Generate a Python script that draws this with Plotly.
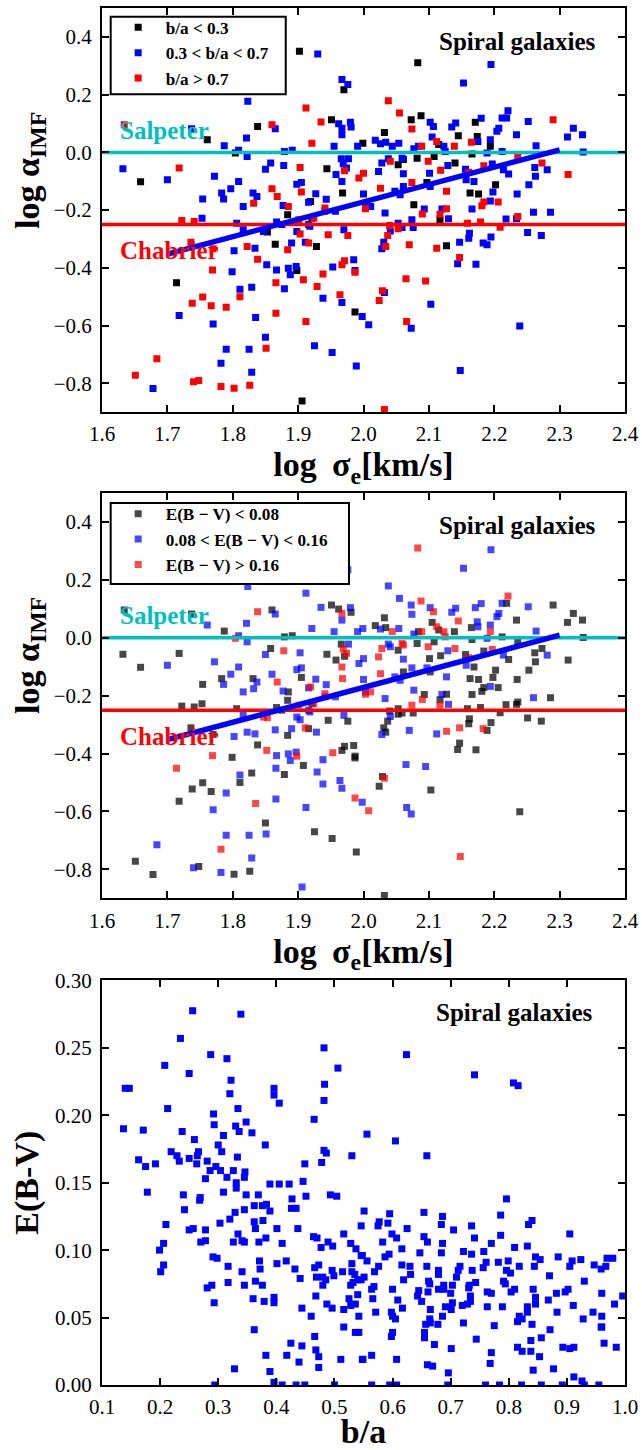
import plotly.graph_objects as go

# ---------------- data: panels 1 & 2 (same galaxies) ----------------
pts = [
(1.902,0.350,'L','M'),(1.930,0.341,'M','M'),(1.967,0.252,'M','M'),(1.976,0.235,'M','M'),
(1.970,0.217,'L','L'),(1.823,0.177,'M','M'),(1.912,0.154,'H','M'),(1.951,0.113,'L','L'),
(1.935,0.105,'H','M'),(1.962,0.099,'M','L'),(1.967,0.084,'M','H'),(1.980,0.104,'M','M'),
(1.981,0.088,'M','L'),(1.967,0.061,'M','M'),(1.838,0.090,'L','H'),(1.860,0.096,'H','L'),
(1.865,0.082,'M','M'),(1.634,0.096,'H','L'),(1.737,0.082,'M','L'),(1.761,0.044,'L','M'),
(1.821,0.050,'M','M'),(1.921,0.032,'H','M'),(1.787,0.023,'M','L'),(1.999,0.032,'L','M'),
(1.809,0.007,'M','M'),(1.804,-0.002,'L','H'),(1.822,-0.014,'M','M'),(1.879,0.003,'M','L'),
(1.891,0.007,'M','L'),(1.955,0.021,'M','M'),(1.991,0.021,'M','M'),(1.966,-0.022,'M','L'),
(1.977,-0.022,'M','M'),(1.969,-0.039,'M','H'),(1.974,-0.054,'M','H'),(1.944,-0.057,'L','L'),
(1.971,-0.064,'H','L'),(1.958,-0.077,'M','L'),(1.967,-0.101,'M','H'),(1.993,-0.089,'H','M'),
(1.632,-0.057,'M','L'),(1.659,-0.102,'L','L'),(1.700,-0.095,'M','M'),(1.718,-0.054,'H','L'),
(1.772,-0.083,'M','M'),(1.809,-0.101,'M','M'),(1.797,-0.126,'M','M'),(1.783,-0.141,'M','L'),
(1.786,-0.161,'M','M'),(1.754,-0.161,'M','L'),(1.831,-0.141,'M','L'),(1.837,-0.153,'M','M'),
(1.832,-0.176,'H','M'),(1.816,-0.187,'M','M'),(1.858,-0.037,'M','L'),(1.850,-0.058,'M','M'),
(1.878,-0.045,'M','H'),(1.903,-0.052,'H','M'),(1.898,-0.110,'M','M'),(1.905,-0.104,'M','M'),
(1.860,-0.126,'H','M'),(1.905,-0.137,'H','L'),(1.868,-0.153,'H','H'),(1.877,-0.184,'M','M'),
(1.885,-0.187,'H','L'),(1.916,-0.173,'M','M'),(1.919,-0.170,'L','H'),(1.927,-0.143,'M','M'),
(1.943,-0.162,'M','M'),(1.968,-0.141,'L','H'),(1.941,-0.193,'H','H'),
(2.083,0.310,'L','H'),(2.195,0.304,'M','M'),(2.153,0.240,'M','M'),(2.038,0.179,'H','M'),
(2.055,0.136,'H','M'),(2.073,0.113,'L','M'),(2.088,0.127,'L','H'),(2.074,0.081,'H','M'),
(2.032,0.069,'L','L'),(2.102,0.104,'M','M'),(2.107,0.090,'M','H'),(2.135,0.088,'M','M'),
(2.141,0.102,'M','M'),(2.171,0.104,'L','M'),(2.180,0.118,'M','M'),(2.145,0.058,'L','H'),
(2.174,0.055,'L','M'),(2.105,0.053,'M','L'),(2.204,0.073,'M','M'),(2.207,0.084,'M','M'),
(2.212,0.119,'M','M'),(2.219,0.119,'M','L'),(2.221,0.144,'M','H'),(2.252,0.107,'M','M'),
(2.290,0.113,'H','L'),(2.321,0.084,'M','L'),(2.335,0.061,'M','L'),(2.312,0.053,'M','L'),
(2.234,0.061,'M','L'),(2.194,0.044,'M','M'),(2.165,0.035,'H','L'),(2.175,0.038,'M','M'),
(2.018,0.042,'M','L'),(2.026,0.030,'M','M'),(2.034,0.035,'M','L'),(2.044,0.021,'M','H'),
(2.054,0.032,'M','M'),(2.077,0.013,'M','M'),(2.084,0.021,'M','L'),(2.089,0.021,'H','H'),
(2.112,0.038,'H','H'),(2.115,0.027,'L','L'),(2.123,0.021,'M','H'),(2.125,0.003,'M','H'),
(2.139,0.021,'H','L'),(2.264,0.023,'M','M'),(2.336,0.001,'M','L'),(2.108,-0.014,'L','L'),
(2.166,-0.006,'L','L'),(2.189,-0.002,'M','M'),(2.212,0.003,'M','L'),(2.236,-0.014,'H','L'),
(2.194,0.021,'L','H'),(2.038,-0.022,'M','M'),(2.059,-0.020,'M','H'),(2.041,-0.031,'H','M'),
(2.053,-0.043,'L','L'),(2.061,-0.025,'L','H'),(2.028,-0.037,'M','H'),(2.023,-0.066,'M','H'),
(2.000,-0.072,'H','M'),(2.099,-0.031,'H','H'),(2.082,-0.020,'L','L'),(2.140,-0.037,'L','H'),
(2.129,-0.045,'M','M'),(2.061,-0.074,'M','M'),(2.101,-0.072,'M','L'),(2.118,-0.062,'H','L'),
(2.156,-0.058,'M','L'),(2.184,-0.046,'H','L'),(2.197,-0.040,'M','H'),(2.161,-0.069,'H','H'),
(2.157,-0.095,'M','M'),(2.169,-0.101,'M','L'),(2.222,-0.075,'M','L'),(2.214,-0.060,'M','M'),
(2.262,-0.052,'M','L'),(2.263,-0.083,'M','L'),(2.281,-0.060,'M','M'),(2.273,-0.037,'H','L'),
(2.313,-0.077,'H','L'),(2.202,-0.112,'L','L'),(2.253,-0.112,'M','L'),(2.235,-0.144,'M','L'),
(2.198,-0.137,'M','L'),(2.163,-0.141,'L','L'),(2.176,-0.144,'L','L'),(2.206,-0.172,'H','L'),
(2.184,-0.172,'H','L'),(2.181,-0.185,'H','L'),(2.194,-0.168,'M','M'),(2.127,-0.135,'H','M'),
(2.102,-0.118,'M','L'),(2.097,-0.104,'L','M'),(2.074,-0.104,'H','M'),(2.061,-0.118,'M','L'),
(2.048,-0.135,'M','M'),(2.056,-0.147,'M','M'),(2.026,-0.124,'H','H'),(2.000,-0.144,'M','M'),
(2.077,-0.181,'L','M'),(2.127,-0.195,'H','L'),(2.093,-0.196,'M','L'),(2.120,-0.196,'M','M'),
(2.166,-0.196,'M','L'),(2.260,-0.207,'M','M'),(2.286,-0.207,'M','L'),
(2.003,-0.187,'M','M'),(2.011,-0.187,'M','H'),(2.003,-0.195,'H','H'),(2.033,-0.210,'M','M'),
(2.090,-0.213,'H','H'),(2.117,-0.214,'H','L'),(2.117,-0.233,'L','H'),(2.130,-0.230,'M','M'),
(2.074,-0.233,'M','H'),(2.053,-0.245,'M','L'),(2.059,-0.260,'M','L'),(2.041,-0.272,'M','M'),
(2.040,-0.253,'H','L'),(2.053,-0.264,'H','L'),(2.037,-0.288,'H','L'),(2.034,-0.326,'H','L'),
(2.076,-0.260,'M','L'),(2.031,-0.311,'M','L'),(2.028,-0.334,'M','M'),(2.070,-0.320,'H','M'),
(2.112,-0.332,'H','M'),(2.127,-0.323,'L','H'),(2.159,-0.245,'H','L'),(2.179,-0.241,'H','L'),
(2.162,-0.280,'M','L'),(2.161,-0.297,'M','L'),(2.147,-0.311,'M','H'),(2.183,-0.314,'M','H'),
(2.189,-0.320,'M','L'),(2.195,-0.293,'M','L'),(2.209,-0.259,'H','L'),(2.218,-0.231,'M','L'),
(2.234,-0.230,'M','L'),(2.236,-0.222,'H','L'),(2.251,-0.277,'M','L'),(2.272,-0.288,'M','L'),
(2.147,-0.364,'H','L'),(2.144,-0.386,'M','L'),(2.172,-0.387,'M','L'),(2.065,-0.438,'H','M'),
(2.095,-0.445,'H','M'),(2.029,-0.479,'H','L'),(2.032,-0.485,'M','H'),(2.024,-0.513,'H','L'),
(2.103,-0.526,'M','L'),(1.998,-0.568,'M','M'),(2.008,-0.597,'M','H'),(2.066,-0.586,'H','M'),
(2.073,-0.609,'M','M'),(2.239,-0.601,'M','L'),(2.148,-0.755,'M','H'),(2.032,-0.890,'H','L'),
(1.884,-0.216,'L','L'),(1.722,-0.236,'H','L'),(1.741,-0.239,'H','L'),(1.753,-0.228,'M','L'),
(1.806,-0.245,'M','L'),(1.736,-0.311,'H','L'),(1.770,-0.334,'H','L'),(1.802,-0.341,'M','M'),
(1.822,-0.326,'H','M'),(1.834,-0.332,'M','M'),(1.816,-0.268,'M','M'),(1.847,-0.274,'M','H'),
(1.853,-0.276,'L','H'),(1.867,-0.241,'M','L'),(1.875,-0.250,'M','L'),(1.890,-0.314,'M','M'),
(1.898,-0.274,'M','M'),(1.903,-0.283,'H','M'),(1.911,-0.311,'M','H'),(1.916,-0.314,'H','L'),
(1.865,-0.318,'L','M'),(1.928,-0.326,'L','M'),(1.884,-0.337,'H','L'),(1.916,-0.250,'M','M'),
(1.921,-0.228,'L','L'),(1.901,-0.233,'H','H'),(1.924,-0.227,'H','H'),(1.918,-0.256,'M','M'),
(1.957,-0.204,'M','M'),(1.970,-0.268,'M','M'),(1.941,-0.204,'H','H'),(1.946,-0.285,'H','L'),
(1.976,-0.288,'H','L'),(1.838,-0.370,'H','L'),(1.852,-0.389,'M','H'),(1.867,-0.407,'M','M'),
(1.885,-0.401,'M','M'),(1.888,-0.424,'M','M'),(1.897,-0.395,'M','M'),(1.898,-0.409,'L','H'),
(1.866,-0.451,'H','M'),(1.879,-0.472,'M','L'),(1.908,-0.441,'H','L'),(1.929,-0.464,'H','M'),
(1.938,-0.505,'M','M'),(1.938,-0.421,'H','M'),(1.953,-0.397,'M','H'),(1.967,-0.389,'H','L'),
(1.971,-0.375,'H','L'),(1.985,-0.372,'M','L'),(1.987,-0.409,'M','L'),(1.987,-0.415,'H','L'),
(1.964,-0.493,'H','M'),(1.967,-0.520,'M','M'),(1.987,-0.553,'L','H'),(1.769,-0.407,'H','H'),
(1.799,-0.413,'M','L'),(1.714,-0.451,'L','H'),(1.738,-0.522,'H','L'),(1.754,-0.501,'H','L'),
(1.767,-0.531,'H','L'),(1.790,-0.536,'H','M'),(1.811,-0.474,'M','M'),(1.829,-0.467,'M','L'),
(1.811,-0.500,'H','L'),(1.718,-0.565,'M','L'),(1.770,-0.594,'M','M'),(1.835,-0.572,'M','H'),
(1.866,-0.557,'H','M'),(1.912,-0.586,'H','M'),(1.850,-0.640,'M','L'),(1.790,-0.682,'M','M'),
(1.825,-0.682,'M','M'),(1.851,-0.678,'H','M'),(1.925,-0.670,'M','L'),(1.952,-0.693,'M','L'),
(1.989,-0.740,'M','L'),(1.684,-0.715,'H','M'),(1.782,-0.730,'M','H'),(1.829,-0.761,'M','M'),
(1.651,-0.772,'H','L'),(1.678,-0.818,'M','L'),(1.740,-0.794,'H','M'),(1.748,-0.790,'H','L'),
(1.782,-0.811,'H','M'),(1.802,-0.817,'H','L'),(1.826,-0.806,'H','L'),(1.906,-0.861,'L','M'),
]
log_sigma = [p[0] for p in pts]
log_alpha = [p[1] for p in pts]
ba_class = [p[2] for p in pts]
ebv_class = [p[3] for p in pts]

ba_labels = {'L': 'b/a < 0.3', 'M': '0.3 < b/a < 0.7', 'H': 'b/a > 0.7'}
ebv_labels = {'L': 'E(B − V) < 0.08', 'M': '0.08 < E(B − V) < 0.16', 'H': 'E(B − V) > 0.16'}
class_order = ['L', 'M', 'H']

salpeter_level = 0.0
chabrier_level = -0.25
fit_sigma = [1.70, 2.30]
fit_alpha = [-0.352, 0.009]
sigma_span = [1.6, 2.4]

# ---------------- data: panel 3 ----------------
p3 = [
(0.256,0.2775),(0.339,0.275),(0.235,0.257),(0.482,0.250),(0.287,0.245),(0.315,0.242),
(0.506,0.235),(0.208,0.237),(0.250,0.231),(0.322,0.226),(0.483,0.223),(0.140,0.220),
(0.147,0.220),(0.320,0.216),(0.396,0.220),(0.396,0.215),(0.405,0.209),(0.482,0.211),
(0.213,0.205),(0.334,0.205),(0.465,0.197),(0.292,0.201),(0.293,0.193),(0.330,0.192),
(0.336,0.188),(0.348,0.195),(0.358,0.187),(0.137,0.190),(0.171,0.189),(0.238,0.188),
(0.259,0.182),(0.309,0.185),(0.300,0.178),(0.306,0.173),(0.381,0.178),(0.482,0.174),
(0.486,0.172),(0.530,0.170),(0.219,0.173),(0.229,0.170),(0.233,0.166),(0.266,0.173),
(0.264,0.170),(0.250,0.168),(0.263,0.164),(0.163,0.167),(0.175,0.162),(0.192,0.164),
(0.281,0.166),(0.333,0.169),(0.296,0.162),(0.286,0.159),(0.304,0.159),(0.326,0.159),
(0.346,0.158),(0.345,0.154),(0.278,0.153),(0.315,0.154),(0.331,0.150),(0.449,0.164),
(0.478,0.165),(0.389,0.149),(0.405,0.149),(0.422,0.149),(0.446,0.151),
(0.624,0.245),(0.741,0.230),(0.808,0.224),(0.816,0.222),(0.556,0.186),(0.605,0.181),
(0.659,0.170),
(0.178,0.143),(0.240,0.141),(0.269,0.139),(0.268,0.137),(0.309,0.143),(0.331,0.146),
(0.348,0.141),(0.369,0.141),(0.427,0.138),(0.451,0.140),(0.493,0.141),(0.504,0.140),
(0.242,0.130),(0.345,0.130),(0.362,0.133),(0.376,0.133),(0.383,0.134),(0.389,0.129),
(0.426,0.131),(0.434,0.131),(0.329,0.128),(0.320,0.123),(0.303,0.120),(0.362,0.121),
(0.377,0.122),(0.210,0.119),(0.250,0.115),(0.257,0.116),(0.278,0.115),(0.364,0.116),
(0.401,0.116),(0.437,0.116),(0.334,0.112),(0.341,0.107),(0.345,0.106),(0.326,0.106),
(0.370,0.106),(0.382,0.109),(0.410,0.105),(0.464,0.110),(0.470,0.109),(0.489,0.106),
(0.497,0.103),(0.477,0.102),(0.516,0.112),(0.528,0.105),(0.537,0.101),(0.206,0.105),
(0.199,0.100),(0.270,0.106),(0.278,0.107),(0.291,0.095),(0.298,0.094),(0.317,0.088),
(0.341,0.084),(0.371,0.092),(0.372,0.086),(0.401,0.090),(0.417,0.092),(0.432,0.086),
(0.441,0.079),(0.466,0.087),(0.473,0.089),(0.469,0.080),(0.480,0.080),(0.485,0.078),
(0.480,0.074),(0.496,0.085),(0.499,0.081),(0.514,0.084),(0.530,0.090),(0.530,0.084),
(0.535,0.082),(0.546,0.096),(0.540,0.078),(0.532,0.076),(0.528,0.074),(0.206,0.089),
(0.201,0.084),(0.281,0.072),(0.289,0.074),(0.317,0.076),(0.345,0.074),(0.364,0.077),
(0.376,0.074),(0.293,0.061),(0.360,0.064),(0.379,0.062),(0.396,0.065),(0.396,0.061),
(0.444,0.057),(0.460,0.051),(0.468,0.066),(0.487,0.060),(0.496,0.057),(0.516,0.056),
(0.525,0.064),(0.528,0.059),(0.536,0.060),(0.540,0.067),(0.542,0.051),(0.362,0.041),
(0.516,0.043),(0.536,0.039),(0.542,0.039),(0.466,0.036),(0.425,0.031),(0.444,0.029),
(0.468,0.026),(0.473,0.021),(0.382,0.022),(0.418,0.022),(0.439,0.017),(0.511,0.019),
(0.548,0.019),(0.328,0.012),(0.389,0.010),(0.473,0.013),(0.294,0.000),(0.396,0.002),
(0.410,0.000),(0.434,0.000),(0.449,0.000),(0.500,0.000),
(0.796,0.138),(0.551,0.129),(0.595,0.127),(0.654,0.128),(0.686,0.125),(0.786,0.126),
(0.577,0.121),(0.575,0.118),(0.592,0.120),(0.546,0.118),(0.625,0.116),(0.684,0.119),
(0.705,0.115),(0.736,0.118),(0.834,0.119),(0.840,0.122),(0.599,0.112),(0.607,0.109),
(0.654,0.110),(0.660,0.106),(0.686,0.105),(0.741,0.109),(0.786,0.111),(0.770,0.105),
(0.905,0.112),(0.583,0.106),(0.616,0.101),(0.647,0.098),(0.684,0.098),(0.722,0.099),
(0.736,0.097),(0.757,0.099),(0.810,0.102),(0.832,0.103),(0.548,0.096),(0.556,0.092),
(0.587,0.095),(0.594,0.097),(0.576,0.088),(0.569,0.084),(0.616,0.089),(0.630,0.088),
(0.631,0.082),(0.659,0.088),(0.679,0.085),(0.679,0.082),(0.713,0.085),(0.716,0.088),
(0.737,0.085),(0.756,0.087),(0.761,0.091),(0.782,0.091),(0.799,0.092),(0.796,0.085),
(0.803,0.083),(0.818,0.088),(0.844,0.088),(0.846,0.095),(0.854,0.093),(0.885,0.095),
(0.909,0.092),(0.905,0.088),(0.924,0.093),(0.947,0.089),(0.959,0.086),(0.967,0.088),
(0.969,0.094),(0.979,0.094),(0.870,0.081),(0.930,0.077),(0.551,0.080),(0.546,0.078),
(0.619,0.078),(0.710,0.080),(0.662,0.077),(0.664,0.075),(0.743,0.076),(0.732,0.074),
(0.731,0.072),(0.791,0.077),(0.794,0.075),(0.810,0.071),(0.804,0.069),(0.568,0.073),
(0.564,0.071),(0.600,0.071),(0.645,0.070),(0.643,0.066),(0.650,0.062),(0.661,0.069),
(0.679,0.071),(0.688,0.074),(0.688,0.071),(0.700,0.068),(0.703,0.074),(0.734,0.066),
(0.734,0.062),(0.729,0.060),(0.720,0.059),(0.763,0.069),(0.770,0.068),(0.842,0.071),
(0.846,0.065),(0.846,0.060),(0.868,0.063),(0.882,0.068),(0.897,0.069),(0.902,0.071),
(0.960,0.068),(0.566,0.064),(0.609,0.063),(0.617,0.057),(0.703,0.061),(0.701,0.056),
(0.691,0.058),(0.665,0.056),(0.763,0.058),(0.789,0.058),(0.832,0.058),(0.832,0.054),
(0.911,0.059),(0.982,0.060),(0.996,0.066),(0.571,0.054),(0.598,0.054),(0.600,0.051),
(0.605,0.049),(0.686,0.051),(0.664,0.049),(0.665,0.046),(0.678,0.045),(0.657,0.045),
(0.722,0.046),(0.775,0.044),(0.818,0.051),(0.823,0.049),(0.815,0.047),(0.840,0.045),
(0.883,0.054),(0.945,0.054),(0.960,0.051),(0.960,0.043),(0.959,0.043),(0.928,0.049),
(0.871,0.041),(0.600,0.039),(0.598,0.036),(0.655,0.039),(0.655,0.035),(0.744,0.034),
(0.672,0.030),(0.701,0.027),(0.838,0.033),(0.856,0.035),(0.815,0.028),(0.823,0.025),
(0.838,0.025),(0.770,0.024),(0.893,0.028),(0.905,0.027),(0.912,0.028),(0.964,0.031),
(0.985,0.028),(0.853,0.021),(0.564,0.022),(0.549,0.019),(0.607,0.019),(0.768,0.016),
(0.660,0.015),(0.669,0.014),(0.842,0.011),(0.877,0.012),(0.696,0.009),(0.912,0.006),
(0.926,0.003),(0.564,0.0),(0.595,0.0),(0.607,0.0),(0.695,0.0),(0.760,0.0),(0.784,0.0),
(0.822,0.0),(0.856,0.0),(0.892,0.0),(0.930,0.0),(0.955,0.0),
]
axis_ratio = [p[0] for p in p3]
ebv_values = [p[1] for p in p3]

# ---------------- styling ----------------
FONT = "Liberation Serif"
colors = {'L': '#000000', 'M': '#0000ff', 'H': '#ff0000'}
CYAN = '#00bfbf'

fig = go.Figure()

for c in class_order:
    idx = [i for i, k in enumerate(ba_class) if k == c]
    fig.add_trace(go.Scatter(
        x=[log_sigma[i] for i in idx], y=[log_alpha[i] for i in idx],
        mode='markers', name=ba_labels[c], legend='legend',
        marker=dict(symbol='square', size=7, color=colors[c], line=dict(width=0)),
        xaxis='x', yaxis='y'))

for c in class_order:
    idx = [i for i, k in enumerate(ebv_class) if k == c]
    fig.add_trace(go.Scatter(
        x=[log_sigma[i] for i in idx], y=[log_alpha[i] for i in idx],
        mode='markers', name=ebv_labels[c], legend='legend2',
        marker=dict(symbol='square', size=7, color=colors[c], opacity=0.72, line=dict(width=0)),
        xaxis='x2', yaxis='y2'))

for xa, ya in (('x', 'y'), ('x2', 'y2')):
    fig.add_trace(go.Scatter(x=sigma_span, y=[salpeter_level] * 2, mode='lines',
                             line=dict(color=CYAN, width=3.5), showlegend=False,
                             xaxis=xa, yaxis=ya, hoverinfo='skip'))
    fig.add_trace(go.Scatter(x=sigma_span, y=[chabrier_level] * 2, mode='lines',
                             line=dict(color='#ff0000', width=3.5), showlegend=False,
                             xaxis=xa, yaxis=ya, hoverinfo='skip'))
    fig.add_trace(go.Scatter(x=fit_sigma, y=fit_alpha, mode='lines',
                             line=dict(color='#0000ff', width=5.5), showlegend=False,
                             xaxis=xa, yaxis=ya, hoverinfo='skip'))

fig.add_trace(go.Scatter(x=axis_ratio, y=ebv_values, mode='markers', showlegend=False,
                         marker=dict(symbol='square', size=7, color='#0000ff', line=dict(width=0)),
                         xaxis='x3', yaxis='y3'))

axis_common = dict(showline=True, linecolor='black', linewidth=2, mirror='allticks',
                   ticks='inside', ticklen=7, tickwidth=1.5, tickcolor='black',
                   showgrid=False, zeroline=False, automargin=False,
                   tickfont=dict(family=FONT, size=21, color='black'))
title_font = dict(family=FONT, size=34, color='black', weight='bold')

d1 = [0.7064, 1.0]
d2 = [0.3534, 0.6478]
d3 = [0.0, 0.2938]

def xax(dom_anchor, rng, tick0, fmt, title):
    return dict(domain=[0, 1], anchor=dom_anchor, range=rng, dtick=0.1, tick0=tick0,
                tickformat=fmt, ticklabelstandoff=2,
                title=dict(text=title, font=title_font, standoff=2), **axis_common)

def yax(anchor, dom, rng, dt, fmt, title):
    return dict(domain=dom, anchor=anchor, range=rng, dtick=dt, tick0=0,
                tickformat=fmt, ticklabelstandoff=4,
                title=dict(text=title, font=title_font, standoff=6), **axis_common)

sig_title = 'log\u2009 σ<sub>e</sub>[km/s]'
alpha_title = 'log α<sub>IMF</sub>'

legend_font = dict(family=FONT, size=17.2, color='black', weight='bold')

fig.update_layout(
    width=642, height=1450, margin=dict(l=102, r=17, t=8, b=65, autoexpand=False),
    paper_bgcolor='white', plot_bgcolor='white',
    xaxis=xax('y', [1.6, 2.4], 1.6, '.1f', sig_title),
    yaxis=yax('x', d1, [-0.9, 0.5], 0.2, '.1f', ''),
    xaxis2=xax('y2', [1.6, 2.4], 1.6, '.1f', sig_title),
    yaxis2=yax('x2', d2, [-0.9, 0.5], 0.2, '.1f', ''),
    xaxis3=xax('y3', [0.1, 1.0], 0.1, '.1f', 'b/a'),
    yaxis3=yax('x3', d3, [0, 0.30], 0.05, '.2f', 'E(B-V)'),
    legend=dict(x=0.0166, y=0.9988, xanchor='left', yanchor='top',
                borderwidth=0, bgcolor='rgba(0,0,0,0)', font=legend_font, itemwidth=45),
    legend2=dict(x=0.0166, y=0.6456, xanchor='left', yanchor='top',
                 borderwidth=0, bgcolor='rgba(0,0,0,0)', font=legend_font, itemwidth=45),
    showlegend=True,
    shapes=[
        dict(type='rect', xref='paper', yref='paper', x0=0.0166, x1=0.3513, y0=0.9373, y1=0.9937,
             line=dict(color='black', width=2), fillcolor='white', layer='above'),
        dict(type='rect', xref='paper', yref='paper', x0=0.0166, x1=0.4723, y0=0.5817, y1=0.6405,
             line=dict(color='black', width=2), fillcolor='white', layer='above'),
    ],
)

ann_font = dict(family=FONT, size=25, weight='bold')
for xa, ya, yv in (('x', 'y', 0.384), ('x2', 'y2', 0.388)):
    fig.add_annotation(x=2.358, y=yv, xref=xa, yref=ya, text='Spiral galaxies', showarrow=False,
                       xanchor='right', yanchor='middle', font=dict(color='black', **ann_font))
    fig.add_annotation(x=1.624, y=0.076, xref=xa, yref=ya, text='Salpeter', showarrow=False,
                       xanchor='left', yanchor='middle', font=dict(color=CYAN, **ann_font))
    fig.add_annotation(x=1.625, y=-0.341, xref=xa, yref=ya, text='Chabrier', showarrow=False,
                       xanchor='left', yanchor='middle', font=dict(color='#ff0000', **ann_font))
fig.add_annotation(x=0.949, y=0.276, xref='x3', yref='y3', text='Spiral galaxies', showarrow=False,
                   xanchor='right', yanchor='middle', font=dict(color='black', **ann_font))

# y-axis titles of the two IMF panels (placed as in the original, above the panel centre)
for yp in (0.8824, 0.5301):
    fig.add_annotation(x=-0.1377, y=yp, xref='paper', yref='paper', text=alpha_title,
                       showarrow=False, textangle=-90, xanchor='center', yanchor='middle',
                       font=title_font)

fig.write_html("out.html", config={'displayModeBar': False},
               post_script="document.body.style.margin='0px';")
